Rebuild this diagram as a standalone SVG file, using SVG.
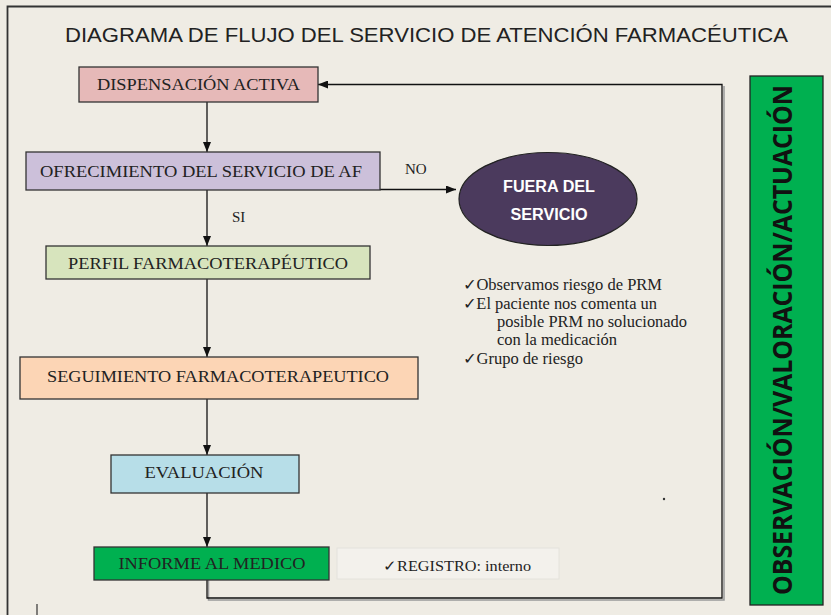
<svg xmlns="http://www.w3.org/2000/svg" width="831" height="615" viewBox="0 0 831 615">
<defs>
<marker id="ah" markerWidth="10" markerHeight="8" refX="10" refY="4" orient="auto" markerUnits="userSpaceOnUse">
<path d="M0,0 L10,4 L0,8 Z" fill="#111"/>
</marker>
<style>
.box{stroke:#333;stroke-width:1.3}
.t{font-family:"Liberation Serif","Times New Roman",serif;font-size:16.5px;fill:#222;text-anchor:middle}
.s{font-family:"Liberation Serif","Times New Roman",serif;font-size:15px;fill:#222}
.l{font-family:"Liberation Serif","Times New Roman",serif;font-size:16px;fill:#222}
.c{stroke:#111;stroke-width:1.3;fill:none}
</style>
</defs>
<rect x="0" y="0" width="831" height="615" fill="#efece4"/>
<path d="M7.5,615 V6.5 H831" fill="none" stroke="#333" stroke-width="1.8"/>
<line x1="37" y1="604" x2="37" y2="615" stroke="#333" stroke-width="1.2"/>
<text x="426.5" y="42" font-family="'Liberation Sans',Arial,sans-serif" font-size="20.5" fill="#222" text-anchor="middle" textLength="723" lengthAdjust="spacingAndGlyphs">DIAGRAMA DE FLUJO DEL SERVICIO DE ATENCIÓN FARMACÉUTICA</text>

<g id="connectors">
<line class="c" x1="207" y1="102" x2="207" y2="152" marker-end="url(#ah)"/>
<line class="c" x1="207" y1="190" x2="207" y2="246" marker-end="url(#ah)"/>
<line class="c" x1="207" y1="279" x2="207" y2="357" marker-end="url(#ah)"/>
<line class="c" x1="207" y1="399" x2="207" y2="455" marker-end="url(#ah)"/>
<line class="c" x1="207" y1="493" x2="207" y2="547" marker-end="url(#ah)"/>
<line class="c" x1="380" y1="189.5" x2="456" y2="189.5" marker-end="url(#ah)"/>
<path d="M208.5,580 V600 H724 V86" fill="none" stroke="#999" stroke-width="1.5"/>
<path class="c" d="M207,580 V598 H722 V84.5 H318" marker-end="url(#ah)"/>
<text class="s" x="232" y="222">SI</text>
<text class="s" x="405" y="174">NO</text>
</g>

<g id="dispensacion">
<rect class="box" x="79" y="67" width="239" height="35" fill="#e6b9b8"/>
<text class="t" x="198.5" y="90" textLength="203" lengthAdjust="spacingAndGlyphs">DISPENSACIÓN ACTIVA</text>
</g>
<g id="ofrecimiento">
<rect class="box" x="26" y="152" width="354" height="38" fill="#ccc0da"/>
<text class="t" x="201" y="177" textLength="322" lengthAdjust="spacingAndGlyphs">OFRECIMIENTO DEL SERVICIO DE AF</text>
</g>
<g id="fuera">
<ellipse cx="548" cy="199" rx="89" ry="46.5" fill="#4b3a5d" stroke="#222" stroke-width="1.2"/>
<text x="549" y="192" font-family="'Liberation Sans',Arial,sans-serif" font-weight="bold" font-size="16" fill="#fff" text-anchor="middle" textLength="92" lengthAdjust="spacingAndGlyphs">FUERA DEL</text>
<text x="549" y="220" font-family="'Liberation Sans',Arial,sans-serif" font-weight="bold" font-size="16" fill="#fff" text-anchor="middle" textLength="77" lengthAdjust="spacingAndGlyphs">SERVICIO</text>
</g>
<g id="perfil">
<rect class="box" x="46" y="246" width="324" height="33" fill="#d7e4bd"/>
<text class="t" x="208" y="269" textLength="280" lengthAdjust="spacingAndGlyphs">PERFIL FARMACOTERAPÉUTICO</text>
</g>
<g id="seguimiento">
<rect class="box" x="20" y="357" width="398" height="42" fill="#fcd5b5"/>
<text class="t" x="218" y="382" textLength="342" lengthAdjust="spacingAndGlyphs">SEGUIMIENTO FARMACOTERAPEUTICO</text>
</g>
<g id="evaluacion">
<rect class="box" x="111" y="455" width="188" height="38" fill="#b7dee8"/>
<text class="t" x="204" y="478" textLength="119" lengthAdjust="spacingAndGlyphs">EVALUACIÓN</text>
</g>
<g id="informe">
<rect class="box" x="94" y="547" width="235" height="33" fill="#00b050" stroke="#222"/>
<text class="t" x="212" y="569" textLength="187" lengthAdjust="spacingAndGlyphs">INFORME AL MEDICO</text>
</g>
<g id="registro">
<rect x="337" y="548" width="222" height="31" fill="#f3f1ec" stroke="#e4e2dc" stroke-width="1"/>
<text class="s" x="383" y="571" font-size="14" textLength="148" lengthAdjust="spacingAndGlyphs">✓REGISTRO: interno</text>
</g>
<g id="criterios">
<text class="l" x="463" y="290" textLength="199" lengthAdjust="spacingAndGlyphs">✓Observamos riesgo de PRM</text>
<text class="l" x="463" y="309" textLength="194" lengthAdjust="spacingAndGlyphs">✓El paciente nos comenta un</text>
<text class="l" x="497" y="327" textLength="190" lengthAdjust="spacingAndGlyphs">posible PRM no solucionado</text>
<text class="l" x="497" y="345" textLength="120" lengthAdjust="spacingAndGlyphs">con la medicación</text>
<text class="l" x="463" y="364" textLength="120" lengthAdjust="spacingAndGlyphs">✓Grupo de riesgo</text>
</g>
<circle cx="664" cy="499" r="1.2" fill="#333"/>
<g id="observacion">
<rect x="750" y="76" width="73" height="529" fill="#00b050" stroke="#222" stroke-width="1.3"/>
<text transform="translate(792,340) rotate(-90)" x="0" y="0" font-family="'Open Sans','Liberation Sans',sans-serif" font-weight="bold" font-size="26" fill="#111" text-anchor="middle" textLength="510" lengthAdjust="spacingAndGlyphs">OBSERVACIÓN/VALORACIÓN/ACTUACIÓN</text>
</g>
</svg>
